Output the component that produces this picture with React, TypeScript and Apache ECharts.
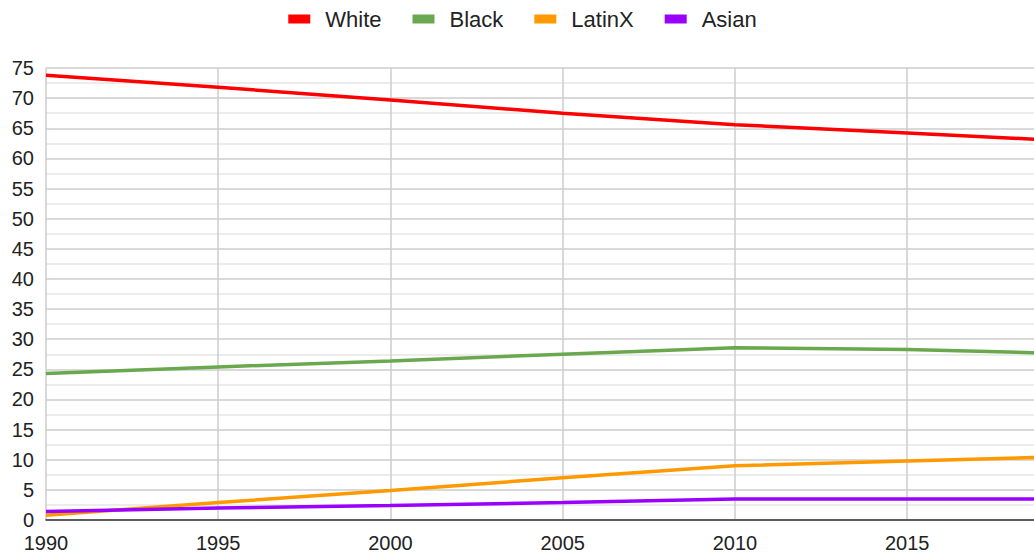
import React, { useEffect, useRef } from "react";
import * as echarts from "echarts";

const years = [1990, 1995, 2000, 2005, 2010, 2015, 2019];
const white = [73.8, 71.8, 69.7, 67.5, 65.6, 64.2, 63.1];
const black = [24.3, 25.4, 26.4, 27.5, 28.6, 28.3, 27.7];
const latinx = [0.8, 2.9, 4.9, 7.0, 9.0, 9.8, 10.4];
const asian = [1.4, 2.0, 2.4, 2.9, 3.5, 3.5, 3.5];

const seriesDefs = [
  { name: "White", values: white, color: "#ff0000" },
  { name: "Black", values: black, color: "#6aa84f" },
  { name: "LatinX", values: latinx, color: "#ff9900" },
  { name: "Asian", values: asian, color: "#9900ff" },
];

const FONT = "'Liberation Sans', Arial, sans-serif";

export default function App() {
  const ref = useRef<HTMLDivElement>(null);
  useEffect(() => {
    document.body.style.margin = "0";
    document.body.style.overflow = "hidden";
    document.documentElement.style.overflow = "hidden";
    const chart = echarts.init(ref.current!, null, { renderer: "svg" });
    chart.setOption({
      animation: false,
      textStyle: { fontFamily: FONT },
      legend: {
        top: 3,
        left: "center",
        itemWidth: 22,
        itemHeight: 9,
        itemGap: 31,
        icon: "rect",
        textStyle: { fontSize: 22, color: "#222", fontFamily: FONT, padding: [0, 0, 0, 10] },
        data: seriesDefs.map((s) => s.name),
      },
      grid: { left: 46, top: 68, right: 0, bottom: 37, containLabel: false },
      xAxis: {
        type: "value",
        min: 1990,
        max: 2019,
        interval: 5,
        axisLine: { show: true, lineStyle: { color: "#333", width: 1.5 } },
        axisTick: { show: false },
        axisLabel: {
          fontSize: 20,
          color: "#222",
          fontFamily: FONT,
          margin: 13,
          showMaxLabel: false,
          formatter: (v: number) => String(v),
        },
        splitLine: { show: true, lineStyle: { color: "#cccccc", width: 1.5 } },
      },
      yAxis: {
        type: "value",
        min: 0,
        max: 75,
        interval: 5,
        axisLine: { show: false },
        axisTick: { show: false },
        axisLabel: { fontSize: 20, color: "#222", fontFamily: FONT, margin: 12 },
        splitLine: { show: true, lineStyle: { color: "#cccccc", width: 1.5 } },
        minorTick: { show: false, splitNumber: 2 },
        minorSplitLine: { show: true, lineStyle: { color: "#e6e6e6", width: 1.5 } },
      },
      series: seriesDefs.map((s) => ({
        name: s.name,
        type: "line",
        data: years.map((y, i) => [y, s.values[i]]),
        showSymbol: false,
        symbol: "none",
        lineStyle: { color: s.color, width: 3.5 },
        itemStyle: { color: s.color },
        clip: true,
      })),
    });
    return () => chart.dispose();
  }, []);
  return <div ref={ref} style={{ width: 1045, height: 557 }} />;
}
